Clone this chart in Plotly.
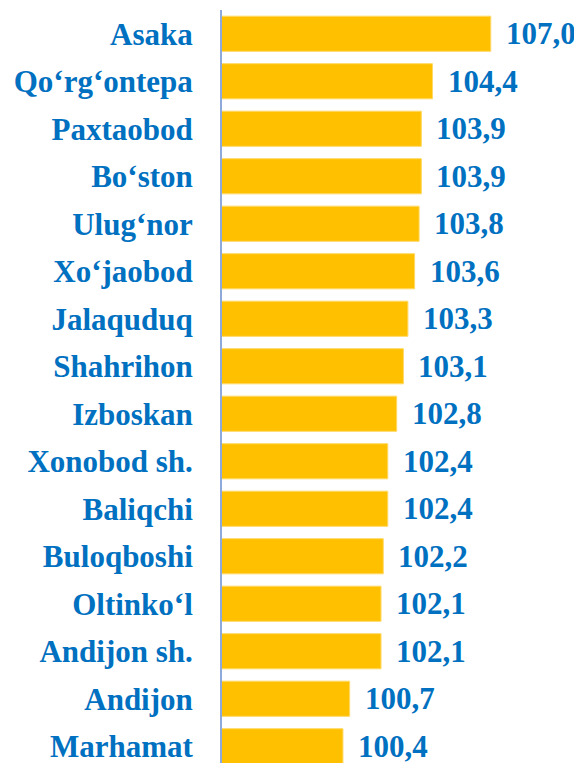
"""
Horizontal bar chart of district indices (Andijon region)
"""
import plotly.graph_objects as go

districts = [
    "Asaka", "Qo‘rg‘ontepa", "Paxtaobod", "Bo‘ston", "Ulug‘nor", "Xo‘jaobod",
    "Jalaquduq", "Shahrihon", "Izboskan", "Xonobod sh.", "Baliqchi",
    "Buloqboshi", "Oltinko‘l", "Andijon sh.", "Andijon", "Marhamat",
]
values = [
    107.0, 104.4, 103.9, 103.9, 103.8, 103.6, 103.3, 103.1,
    102.8, 102.4, 102.4, 102.2, 102.1, 102.1, 100.7, 100.4,
]
value_labels = [f"{v:.1f}".replace(".", ",") for v in values]

BLUE = "#0070C0"
GOLD = "#FFC000"
FONT = "Liberation Serif, Times New Roman, serif"

fig = go.Figure()

fig.add_trace(go.Bar(
    x=values,
    y=districts,
    orientation='h',
    marker=dict(color=GOLD, line=dict(color='#FFD966', width=1)),
    hoverinfo='skip',
))

# value labels to the right of each bar
for name, v, lab in zip(districts, values, value_labels):
    fig.add_annotation(
        x=v, y=name,
        text=f"<b>{lab}</b>",
        showarrow=False,
        xanchor='left',
        xshift=13,
        font=dict(family=FONT, size=31, color=BLUE),
    )

# page body adds an 8px offset, margins compensate for it
fig.update_layout(
    width=582,
    height=763,
    margin=dict(l=214, r=0, t=2, b=1),
    plot_bgcolor='white',
    paper_bgcolor='white',
    showlegend=False,
    bargap=0.26,
    xaxis=dict(
        range=[95, 111.43],
        visible=False,
    ),
    yaxis=dict(
        categoryorder='array',
        categoryarray=districts,
        range=[15.5, -0.5],
        showline=True,
        linecolor='#8EA9DB',
        linewidth=2,
        showgrid=False,
        ticks='',
        ticklabelstandoff=21,
        tickfont=dict(family=FONT, size=31, color=BLUE, weight='bold'),
    ),
)

fig.write_html("out.html")
